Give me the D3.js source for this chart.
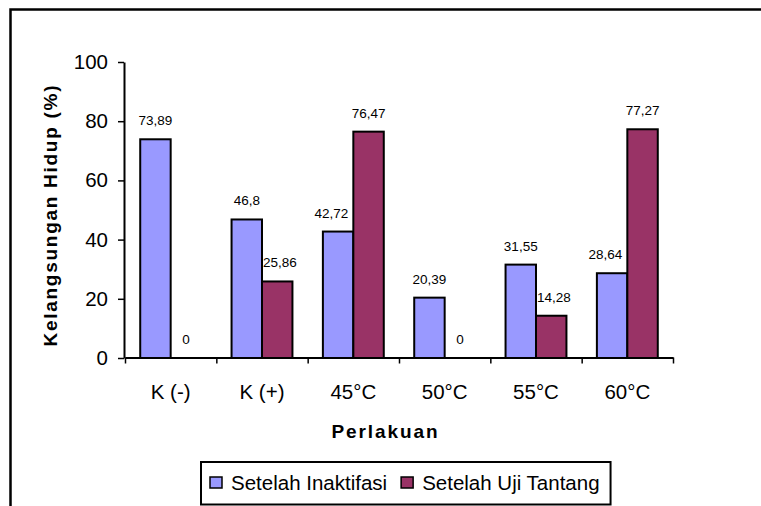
<!DOCTYPE html>
<html>
<head>
<meta charset="utf-8">
<script src="https://cdn.jsdelivr.net/npm/d3@7"></script>
<style>
  body { margin: 0; background: #fff; }
  svg { display: block; font-family: "Liberation Sans", Arial, sans-serif; }
</style>
</head>
<body>
<script>
var categories = ["K (-)", "K (+)", "45°C", "50°C", "55°C", "60°C"];
var seriesNames = ["Setelah Inaktifasi", "Setelah Uji Tantang"];
var inaktifasi = [73.89, 46.8, 42.72, 20.39, 31.55, 28.64];
var ujiTantang = [0, 25.86, 76.47, 0, 14.28, 77.27];
var yTicks = [0, 20, 40, 60, 80, 100];
var colors = ["#9999FF", "#993366"];

var W = 761, H = 506;

var svg = d3.select("body").append("svg")
    .attr("width", W)
    .attr("height", H);

svg.append("rect").attr("width", W).attr("height", H).attr("fill", "#fff");

// outer frame (right / bottom edges fall outside the picture)
svg.append("rect")
    .attr("x", 10.5).attr("y", 9.5)
    .attr("width", 820).attr("height", 620)
    .attr("fill", "none")
    .attr("stroke", "#000")
    .attr("stroke-width", 2.5);

var x = d3.scaleBand().domain(categories).range([125, 673]).padding(0),
    xs = d3.scaleBand().domain(seriesNames).range([0, x.bandwidth()]).paddingInner(0).paddingOuter(0.5),
    y = d3.scaleLinear().domain([0, 100]).range([358, 62]),
    z = d3.scaleOrdinal().domain(seriesNames).range(colors);

var rows = categories.map(function (c, i) {
  return {cat: c, values: [
    {key: seriesNames[0], value: inaktifasi[i]},
    {key: seriesNames[1], value: ujiTantang[i]}
  ]};
});

function fmt(v) { return String(v).replace(".", ","); }

// bars
var group = svg.selectAll(".grp")
  .data(rows)
  .enter().append("g")
    .attr("class", "grp")
    .attr("transform", function (d) { return "translate(" + x(d.cat) + ",0)"; });

group.selectAll("rect")
  .data(function (d) { return d.values; })
  .enter().append("rect")
    .attr("x", function (d) { return xs(d.key); })
    .attr("y", function (d) { return y(d.value); })
    .attr("width", xs.bandwidth())
    .attr("height", function (d) { return y(0) - y(d.value); })
    .attr("fill", function (d) { return z(d.key); })
    .attr("stroke", "#000")
    .attr("stroke-width", 2);

// value labels, nudged away from a taller neighbouring bar
group.each(function (d) {
  var g = d3.select(this);
  d.values.forEach(function (v, j) {
    var t = g.append("text")
      .attr("x", xs(v.key) + xs.bandwidth() / 2)
      .attr("y", y(v.value) - 14)
      .attr("text-anchor", "middle")
      .style("font-size", "13.5px")
      .attr("fill", "#000")
      .text(fmt(v.value));
    var other = d.values[1 - j];
    var half = t.node().getComputedTextLength() / 2;
    var cx = xs(v.key) + xs.bandwidth() / 2;
    if (y(other.value) < y(v.value) - 14) {
      if (j === 0 && cx + half > xs(other.key) - 5) {
        t.attr("x", xs(other.key) - 5 - half);
      }
      if (j === 1 && cx - half < xs(other.key) + xs.bandwidth() + 1) {
        t.attr("x", xs(other.key) + xs.bandwidth() + 1 + half);
      }
    }
  });
});

// y axis
var yAxis = svg.append("g")
    .attr("transform", "translate(124,0)")
    .call(d3.axisLeft(y).tickValues(yTicks).tickSize(6).tickPadding(10).tickSizeOuter(0));
yAxis.select(".domain").attr("stroke-width", 2);
yAxis.selectAll(".tick line").attr("stroke-width", 1.5);
yAxis.selectAll("text")
    .style("font-size", "20.5px")
    .style("font-family", "'Liberation Sans', Arial, sans-serif")
    .attr("fill", "#000");

// x axis: line + ticks at category boundaries
var xb = d3.scaleLinear().domain([0, categories.length]).range(x.range());
var xAxis = svg.append("g")
    .attr("transform", "translate(0,357.5)")
    .call(d3.axisBottom(xb).ticks(categories.length).tickSize(6).tickSizeOuter(0).tickFormat(""));
xAxis.select(".domain").attr("stroke-width", 2);
xAxis.selectAll(".tick line").attr("stroke-width", 1.5);

// category labels
var xLab = svg.append("g")
    .attr("transform", "translate(0,358)")
    .call(d3.axisBottom(x).tickSize(0).tickPadding(26));
xLab.select(".domain").remove();
xLab.selectAll("text")
    .style("font-size", "20.5px")
    .style("font-family", "'Liberation Sans', Arial, sans-serif")
    .attr("fill", "#000");

// axis titles
svg.append("text")
    .attr("transform", "translate(56.5,216) rotate(-90)")
    .attr("text-anchor", "middle")
    .attr("textLength", 261)
    .attr("lengthAdjust", "spacing")
    .style("font-size", "19px")
    .style("font-weight", "bold")
    .text("Kelangsungan Hidup (%)");

svg.append("text")
    .attr("x", 384.5)
    .attr("y", 437.5)
    .attr("text-anchor", "middle")
    .attr("textLength", 106)
    .attr("lengthAdjust", "spacing")
    .style("font-size", "19px")
    .style("font-weight", "bold")
    .text("Perlakuan");

// legend
var legend = svg.append("g").attr("transform", "translate(201,462)");
var box = legend.append("rect")
    .attr("y", 0)
    .attr("height", 42.5)
    .attr("fill", "#fff")
    .attr("stroke", "#000")
    .attr("stroke-width", 2);

var lx = 9;
seriesNames.forEach(function (name, i) {
  legend.append("rect")
      .attr("x", lx).attr("y", 15)
      .attr("width", 12).attr("height", 11)
      .attr("fill", z(name))
      .attr("stroke", "#000")
      .attr("stroke-width", 1.5);
  var t = legend.append("text")
      .attr("x", lx + 21)
      .attr("y", 27.5)
      .style("font-size", "20.5px")
      .attr("fill", "#000")
      .text(name);
  lx += 21 + t.node().getComputedTextLength() + 14;
});
box.attr("width", lx - 14 + 11);
</script>
</body>
</html>
